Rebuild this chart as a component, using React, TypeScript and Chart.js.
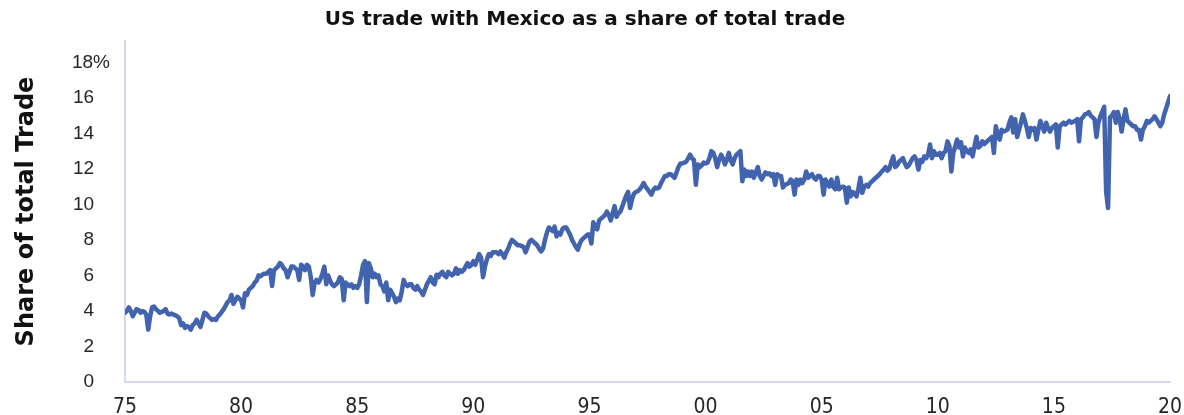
import React, { useEffect, useRef } from 'react';
import { Chart, registerables } from 'chart.js';

Chart.register(...registerables);

const startYear = 1975;

// Monthly share of US total trade with Mexico (%), Jan 1975 onwards
const share1975to1979 = [
  3.9, 4.0, 4.2, 4.0, 3.7, 3.9, 4.1, 4.05, 3.9, 4.0, 3.95, 3.8,
  2.95, 3.7, 4.2, 4.25, 4.1, 4.0, 3.9, 3.95, 4.0, 4.1, 3.85, 3.8,
  3.85, 3.8, 3.75, 3.7, 3.6, 3.2, 3.3, 3.05, 3.15, 3.1, 2.95, 3.2,
  3.3, 3.5, 3.3, 3.1, 3.5, 3.9, 3.85, 3.7, 3.6, 3.5, 3.55, 3.5,
  3.7, 3.8, 3.95, 4.1, 4.3, 4.5, 4.6, 4.9, 4.4, 4.6, 4.8, 4.7,
];
const share1980to1984 = [
  4.6, 4.2, 5.0, 4.9, 5.2, 5.3, 5.4, 5.6, 5.7, 6.0, 5.95, 6.05,
  6.1, 6.1, 6.2, 6.3, 5.4, 6.3, 6.4, 6.5, 6.7, 6.6, 6.4, 6.3,
  5.9, 6.2, 6.5, 6.5, 6.4, 6.3, 5.75, 6.6, 6.5, 6.3, 6.6, 6.5,
  5.9, 4.9, 5.6, 5.75, 5.6, 5.8, 6.1, 6.5, 5.5, 6.0, 5.7, 5.5,
  5.4, 5.5, 5.6, 5.9, 5.8, 4.6, 5.6, 5.5, 5.4, 5.5, 5.3, 5.4,
];
const share1985to1989 = [
  5.3, 5.5, 6.0, 6.6, 6.8, 4.5, 6.7, 6.4, 5.9, 6.1, 5.9, 6.0,
  5.5, 5.4, 5.1, 5.6, 4.6, 5.2, 5.0, 4.8, 4.5, 4.7, 4.6, 5.1,
  5.75, 5.5, 5.4, 5.5, 5.5, 5.3, 5.2, 5.4, 5.2, 5.1, 4.9, 5.2,
  5.5, 5.7, 5.9, 5.6, 5.5, 6.04, 5.9, 6.1, 6.2, 6.0, 5.9, 6.2,
  6.1, 6.0, 6.1, 6.4, 6.1, 6.3, 6.2, 6.3, 6.5, 6.7, 6.5, 6.6,
];
const share1990to1994 = [
  6.8, 6.6, 6.9, 7.2, 7.0, 5.9, 6.5, 6.9, 7.2, 7.1, 7.3, 7.3,
  7.3, 7.2, 7.35, 7.2, 7.0, 7.3, 7.5, 7.8, 8.0, 7.9, 7.8, 7.7,
  7.7, 7.65, 7.6, 7.3, 7.6, 7.9, 8.0, 7.9, 7.8, 7.7, 7.5, 7.35,
  7.5, 8.0, 8.4, 8.7, 8.6, 8.5, 8.75, 8.2, 8.4, 8.3, 8.6, 8.7,
  8.7, 8.5, 8.3, 8.0, 7.8, 7.6, 7.45, 7.8, 8.0, 8.1, 8.2, 8.3,
];
const share1995to1999 = [
  8.3, 7.8, 9.0, 8.7, 8.6, 9.1, 9.2, 9.3, 9.4, 9.6, 9.4, 9.1,
  9.5, 9.9, 9.3, 9.5, 9.6, 9.9, 10.2, 10.5, 10.7, 9.8, 10.3, 10.6,
  10.7, 10.75, 10.85, 11.0, 11.2, 11.0, 10.85, 10.7, 10.55, 10.8, 10.95, 10.9,
  10.95, 11.2, 11.4, 11.6, 11.6, 11.7, 11.7, 11.6, 11.5, 11.8, 12.1, 12.3,
  12.3, 12.35, 12.4, 12.6, 12.8, 12.6, 12.5, 11.1, 12.25, 12.1, 12.2, 12.35,
];
const share2000to2004 = [
  12.3, 12.35, 12.6, 13.0, 12.9, 12.6, 12.1, 12.5, 12.8, 12.6, 12.25, 12.5,
  12.9, 12.5, 12.25, 12.6, 12.8, 12.9, 13.0, 11.3, 11.96, 11.6, 11.85, 11.6,
  11.85, 11.5, 11.8, 12.1, 11.6, 11.4, 11.6, 11.8, 11.7, 11.75, 11.6, 11.7,
  11.1, 11.7, 11.6, 11.6, 10.95, 11.1, 11.15, 11.2, 11.4, 11.3, 10.55, 11.4,
  11.1, 11.4, 11.2, 11.4, 11.85, 11.5, 11.6, 11.7, 11.5, 11.4, 11.6, 11.6,
];
const share2005to2009 = [
  11.4, 10.55, 11.4, 11.2, 11.0, 11.4, 11.0, 10.85, 11.5, 10.85, 10.95, 11.0,
  10.95, 10.1, 10.95, 10.45, 10.7, 10.6, 10.45, 10.9, 11.5, 10.65, 11.0, 11.1,
  11.0, 11.2, 11.3, 11.4, 11.5, 11.6, 11.7, 11.85, 11.95, 12.1, 11.9, 12.0,
  12.4, 12.7, 12.1, 12.2, 12.4, 12.5, 12.6, 12.3, 12.1, 12.2, 12.4, 12.6,
  12.7, 12.5, 11.96, 12.5, 12.4, 12.7, 12.6, 12.8, 13.37, 12.6, 13.0, 12.8,
];
const share2010to2014 = [
  12.8, 12.9, 12.6, 12.9, 13.0, 13.55, 13.3, 11.85, 12.9, 13.26, 13.65, 13.2,
  13.5, 12.7, 13.2, 13.0, 12.9, 13.1, 12.7, 13.3, 13.8, 13.2, 13.3, 13.55,
  13.4, 13.5, 13.6, 13.7, 13.8, 12.9, 14.4, 13.9, 13.65, 14.2, 14.1, 14.15,
  14.2, 14.6, 14.9, 14.05, 14.8, 13.8, 14.2, 14.6, 15.07, 14.7, 14.3, 13.8,
  14.3, 14.2, 14.3, 13.65, 14.2, 14.7, 14.4, 14.1, 14.6, 14.3, 14.1, 14.3,
];
const share2015to2019 = [
  14.4, 14.5, 13.2, 14.4, 14.5, 14.6, 14.5, 14.6, 14.7, 14.6, 14.65, 14.7,
  14.8, 13.55, 14.8, 14.9, 15.07, 15.1, 15.2, 15.0, 14.9, 14.8, 13.8, 14.6,
  14.96, 15.2, 15.5, 10.7, 9.8, 14.9, 15.0, 15.2, 14.6, 15.2, 14.8, 14.1,
  14.8, 15.35, 14.7, 14.6, 14.5, 14.4, 14.4, 14.2, 14.2, 13.65, 14.2, 14.4,
  14.7, 14.6, 14.7, 14.8, 14.96, 14.8, 14.6, 14.4, 14.6, 15.07, 15.4, 15.75,
];
const share2020 = [16.1];

const xTickYears = [1975, 1980, 1985, 1990, 1995, 2000, 2005, 2010, 2015, 2020];
const yTickValues = [0, 2, 4, 6, 8, 10, 12, 14, 16, 18];

const chartTitle = 'US trade with Mexico as a share of total trade';
const yAxisTitle = 'Share of total Trade';

export default function App() {
  const ref = useRef<HTMLCanvasElement>(null);

  useEffect(() => {
    const all = [
      ...share1975to1979,
      ...share1980to1984,
      ...share1985to1989,
      ...share1990to1994,
      ...share1995to1999,
      ...share2000to2004,
      ...share2005to2009,
      ...share2010to2014,
      ...share2015to2019,
      ...share2020,
    ];
    const points = all.map((v, i) => ({ x: startYear + i / 12, y: v }));

    const chart = new Chart(ref.current as HTMLCanvasElement, {
      type: 'line',
      data: {
        datasets: [
          {
            data: points,
            borderColor: '#4263AE',
            borderWidth: 4.5,
            pointRadius: 0,
            tension: 0,
            fill: false,
            borderJoinStyle: 'round',
            borderCapStyle: 'round',
          },
        ],
      },
      options: {
        animation: false,
        responsive: false,
        devicePixelRatio: 1,
        layout: { padding: { left: 0, right: 14, top: 0, bottom: 0 } },
        plugins: {
          legend: { display: false },
          tooltip: { enabled: false },
          title: {
            display: true,
            text: chartTitle,
            color: '#111111',
            font: { family: '"DejaVu Sans", sans-serif', size: 20, weight: 'bold' },
            padding: { top: 8, bottom: 9 },
          },
        },
        scales: {
          x: {
            type: 'linear',
            min: 1975,
            max: 2020,
            grid: { display: false, drawTicks: false },
            border: { display: true, color: '#D3D9EE', width: 2 },
            ticks: {
              color: '#262626',
              padding: 13,
              maxRotation: 0,
              font: { family: '"Liberation Sans Narrow", "DejaVu Sans Condensed", sans-serif', size: 21 },
              callback: (v: any) => String(v).slice(2),
            },
            afterBuildTicks: (s: any) => {
              s.ticks = xTickYears.map((v) => ({ value: v }));
            },
            afterFit: (s: any) => {
              s.height = 33;
              s.paddingLeft = 0;
              s.paddingRight = 0;
            },
          },
          y: {
            min: 0,
            max: 19.2,
            grid: { display: false, drawTicks: false },
            border: { display: true, color: '#D3D9EE', width: 2 },
            ticks: {
              color: '#262626',
              padding: 15,
              font: { family: '"Liberation Sans", Arial, sans-serif', size: 19 },
              callback: (v: any) => (v === 18 ? '18%' : String(v) + '\u00a0\u00a0\u00a0'),
            },
            afterBuildTicks: (s: any) => {
              s.ticks = yTickValues.map((v) => ({ value: v }));
            },
            afterFit: (s: any) => {
              s.width = 125;
              s.paddingTop = 0;
              s.paddingBottom = 0;
            },
            title: {
              display: true,
              text: yAxisTitle,
              color: '#111111',
              font: { family: '"DejaVu Sans", sans-serif', size: 24, weight: 'bold' },
              padding: { top: 12, bottom: 0 },
            },
          },
        },
      },
    });
    return () => chart.destroy();
  }, []);

  return (
    <div style={{ position: 'absolute', left: 0, top: 0, width: 1184, height: 415 }}>
      <canvas ref={ref} width={1184} height={415} style={{ display: 'block' }} />
    </div>
  );
}
